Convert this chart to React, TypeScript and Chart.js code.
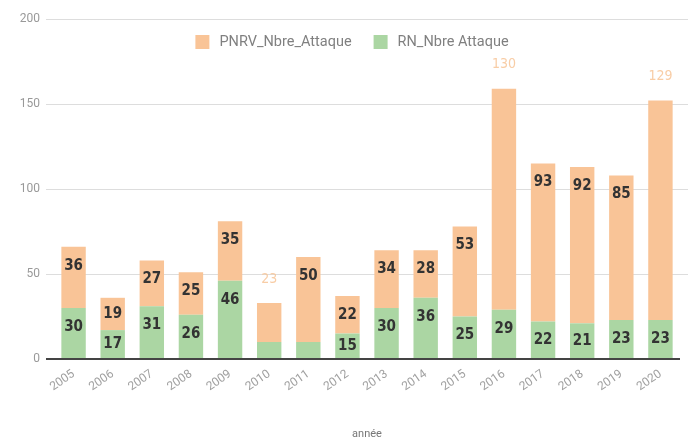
import React, { useEffect, useRef } from "react";
import { Chart, registerables } from "chart.js";

Chart.register(...registerables);

const years = ["2005", "2006", "2007", "2008", "2009", "2010", "2011", "2012", "2013", "2014", "2015", "2016", "2017", "2018", "2019", "2020"];
const rnValues = [30, 17, 31, 26, 46, 10, 10, 15, 30, 36, 25, 29, 22, 21, 23, 23];
const pnrvValues = [36, 19, 27, 25, 35, 23, 50, 22, 34, 28, 53, 130, 93, 92, 85, 129];
const yTickValues = [0, 50, 100, 150, 200];
const rnLabel = "RN_Nbre Attaque";
const pnrvLabel = "PNRV_Nbre_Attaque";
const xAxisTitle = "année";
const hiddenRnLabelYears = ["2010", "2011"];
const outsideLabelYears = ["2010", "2016", "2020"];

const ORANGE = "#f9c497";
const GREEN = "#abd6a3";

const gridExtend = {
  id: "gridExtend",
  beforeDatasetsDraw(chart: any) {
    const ctx = chart.ctx;
    const y = chart.scales.y;
    const area = chart.chartArea;
    ctx.save();
    y.ticks.forEach((t: any) => {
      if (t.value === 0) return;
      const py = Math.round(y.getPixelForValue(t.value)) + 0.5;
      ctx.strokeStyle = "#ddd";
      ctx.lineWidth = 1;
      ctx.beginPath();
      ctx.moveTo(area.right, py);
      ctx.lineTo(area.right + 8, py);
      ctx.stroke();
    });
    ctx.restore();
  },
};

const segLabels = {
  id: "segLabels",
  afterDatasetsDraw(chart: any) {
    const ctx = chart.ctx;
    chart.data.datasets.forEach((ds: any, di: number) => {
      const meta = chart.getDatasetMeta(di);
      meta.data.forEach((el: any, i: number) => {
        const { x, y, base } = el.getProps(["x", "y", "base"], true);
        const v = ds.data[i];
        const year = chart.data.labels[i];
        const isRn = di === 0;
        if (isRn && hiddenRnLabelYears.includes(year)) return;
        ctx.save();
        ctx.textAlign = "center";
        ctx.textBaseline = "middle";
        if (!isRn && outsideLabelYears.includes(year)) {
          ctx.font = "14px 'DejaVu Sans Condensed', 'DejaVu Sans'";
          ctx.fillStyle = "rgba(247,196,150,0.85)";
          ctx.fillText(String(v), x, y - 24);
        } else {
          const h = base - y;
          ctx.font = "bold 15px 'DejaVu Sans Condensed', 'DejaVu Sans'";
          ctx.fillStyle = "#333";
          ctx.fillText(String(v), x, y + Math.min(19, h / 2));
        }
        ctx.restore();
      });
    });
  },
};

const topLegend = {
  id: "topLegend",
  afterDraw(chart: any) {
    const ctx = chart.ctx;
    const items = [
      { label: pnrvLabel, color: ORANGE },
      { label: rnLabel, color: GREEN },
    ];
    ctx.save();
    ctx.font = "14.5px Roboto";
    ctx.textBaseline = "middle";
    ctx.textAlign = "left";
    const box = 14;
    const gapBoxText = 10;
    const gapItems = 22;
    const widths = items.map((it) => box + gapBoxText + ctx.measureText(it.label).width);
    const total = widths.reduce((a, b) => a + b, 0) + gapItems * (items.length - 1);
    let x = chart.width / 2 + 3 - total / 2;
    const yMid = 42;
    items.forEach((it, k) => {
      ctx.fillStyle = it.color;
      ctx.fillRect(x, yMid - box / 2, box, box);
      ctx.fillStyle = "#808080";
      ctx.fillText(it.label, x + box + gapBoxText, yMid);
      x += widths[k] + gapItems;
    });
    ctx.restore();
  },
};

export default function App() {
  const ref = useRef<HTMLCanvasElement | null>(null);
  useEffect(() => {
    if (!ref.current) return;
    const chart = new Chart(ref.current, {
      type: "bar",
      data: {
        labels: years,
        datasets: [
          { label: rnLabel, data: rnValues, backgroundColor: GREEN, borderWidth: 0 },
          { label: pnrvLabel, data: pnrvValues, backgroundColor: ORANGE, borderWidth: 0 },
        ],
      },
      options: {
        animation: false,
        responsive: true,
        maintainAspectRatio: false,
        layout: { padding: { top: 19, right: 18, left: 0, bottom: 0 } },
        plugins: { legend: { display: false }, tooltip: { enabled: false } },
        datasets: { bar: { categoryPercentage: 0.8, barPercentage: 0.78 } },
        scales: {
          x: {
            stacked: true,
            grid: { display: false, drawTicks: false },
            border: { display: false },
            ticks: { color: "#a0a0a0", font: { family: "Roboto", size: 12 }, minRotation: 35, maxRotation: 35, padding: 8 },
            title: { display: true, text: xAxisTitle, color: "#777", font: { family: "Roboto", size: 11 }, padding: { top: 0, bottom: -2 } },
            afterFit: (s: any) => { s.height = 80; },
          },
          y: {
            stacked: true,
            min: 0,
            max: 200,
            afterBuildTicks: (s: any) => { s.ticks = yTickValues.map((v) => ({ value: v })); },
            ticks: { color: "#999", font: { family: "Roboto", size: 12 }, padding: 6 },
            grid: {
              color: (c: any) => (c.tick && c.tick.value === 0 ? "#444" : "#ddd"),
              lineWidth: (c: any) => (c.tick && c.tick.value === 0 ? 2 : 1),
              tickLength: 8,
            },
            border: { display: false },
            afterFit: (s: any) => { s.width = 54; },
          },
        },
      },
      plugins: [gridExtend, segLabels, topLegend],
    });
    return () => chart.destroy();
  }, []);
  return (
    <div style={{ position: "fixed", left: 0, top: 0, width: 698, height: 439, background: "#fff" }}>
      <canvas ref={ref} />
    </div>
  );
}
